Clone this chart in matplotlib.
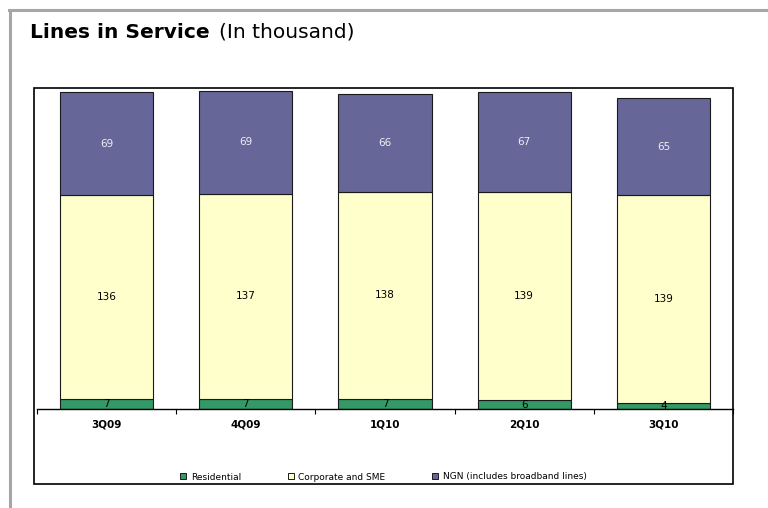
import matplotlib
matplotlib.use("Agg")
import matplotlib.pyplot as plt
from matplotlib.patches import Rectangle, Patch
from matplotlib.lines import Line2D
import numpy as np

plt.rcParams['font.family'] = ['DejaVu Sans']

quarters = ["3Q09", "4Q09", "1Q10", "2Q10", "3Q10"]
residential = [7, 7, 7, 6, 4]
corporate = [136, 137, 138, 139, 139]
ngn = [69, 69, 66, 67, 65]

series_names = ["Residential", "Corporate and SME", "NGN (includes broadband lines)"]
colors = ["#339966", "#FFFFCC", "#666699"]
label_colors = ["#000000", "#000000", "#EEEEF4"]

W, H = 768, 508
fig = plt.figure(figsize=(W / 100, H / 100), dpi=100)

def fx(px):
    return px / W

def fy(py):
    return 1 - py / H

# outer page frame (top and left edges)
fig.add_artist(Line2D([fx(9), 1.0], [fy(9.5), fy(9.5)], color="#A6A6A6", lw=2.2))
fig.add_artist(Line2D([fx(9.5), fx(9.5)], [fy(9.5), 0.0], color="#A6A6A6", lw=2.2))

# title
t1 = fig.text(fx(30), fy(38), "Lines in Service", fontsize=14.5, fontweight="bold",
              va="baseline", ha="left", color="#000000")
fig.canvas.draw()
bb = t1.get_window_extent(renderer=fig.canvas.get_renderer())
fig.text(bb.x1 / W + fx(9), fy(38), "(In thousand)", fontsize=14.5,
         va="baseline", ha="left", color="#000000")

# chart box
fig.add_artist(Rectangle((fx(34), fy(484)), fx(733) - fx(34), fy(88) - fy(484),
                         transform=fig.transFigure, fill=False, ec="#000000", lw=1.2))

ax = fig.add_axes([fx(37), fy(409), fx(733) - fx(37), fy(88) - fy(409)])
ax.set_facecolor("none")

x = np.arange(len(quarters))
bottom = np.zeros(len(quarters))
for vals, col, lc in zip([residential, corporate, ngn], colors, label_colors):
    vals = np.array(vals, dtype=float)
    ax.bar(x, vals, width=0.67, bottom=bottom, color=col, edgecolor="#1a1a1a", lw=0.8)
    for xi, b, v in zip(x, bottom, vals):
        ax.text(xi, b + v / 2, f"{int(v)}", ha="center", va="center",
                fontsize=7.5, color=lc)
    bottom += vals

ax.set_xlim(-0.5, len(quarters) - 0.5)
ax.set_ylim(0, 214.7)
for s in ["left", "right", "top"]:
    ax.spines[s].set_visible(False)
ax.spines["bottom"].set_linewidth(1.0)
ax.set_yticks([])
ax.set_xticks(np.arange(len(quarters) + 1) - 0.5)
ax.set_xticklabels([])
ax.set_xticks(x, minor=True)
ax.set_xticklabels(quarters, minor=True, fontsize=7.5, fontweight="bold")
ax.tick_params(axis="x", which="major", length=3.5, width=0.8, direction="out")
ax.tick_params(axis="x", which="minor", length=0, pad=7.5)

handles = [Patch(facecolor=c, edgecolor="#1a1a1a", lw=0.7) for c in colors]
fig.legend(handles, series_names, loc="center", bbox_to_anchor=(fx(383.5), fy(477)),
           ncol=3, frameon=False, fontsize=6.5, handlelength=0.65, handleheight=0.65,
           handletextpad=0.5, columnspacing=5.2, borderpad=0)

fig.savefig("out.png", dpi=100)
